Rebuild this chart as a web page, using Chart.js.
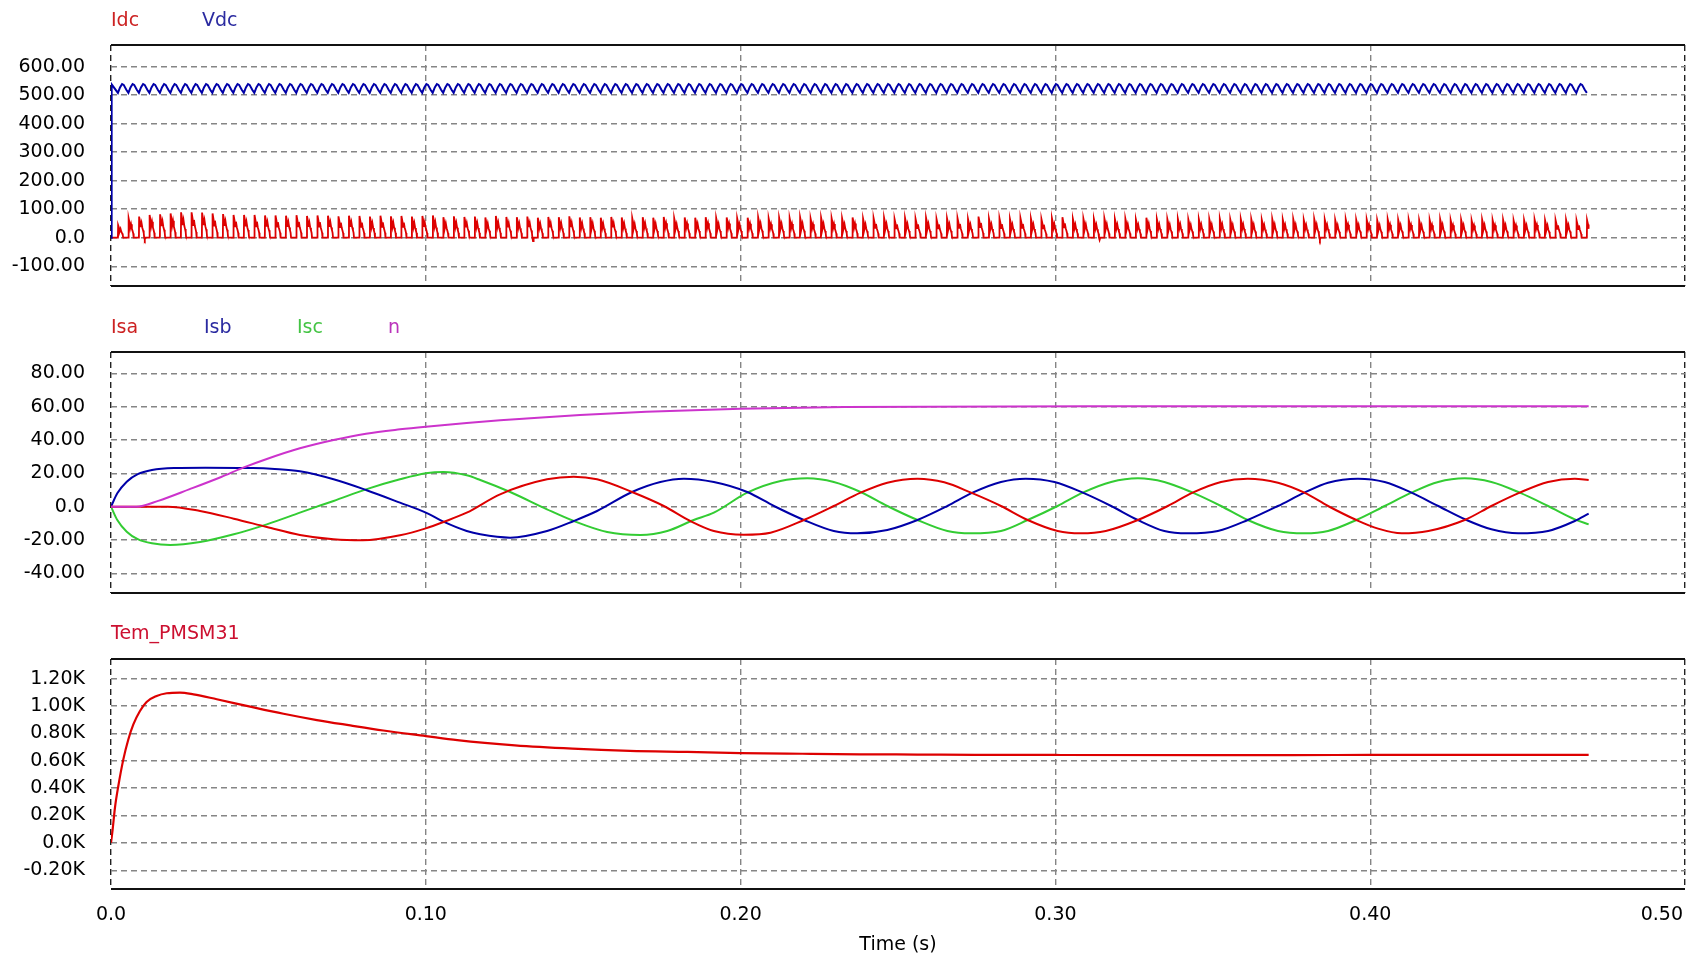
<!DOCTYPE html>
<html>
<head>
<meta charset="utf-8">
<title>PMSM drive simulation</title>
<script src="https://cdn.jsdelivr.net/npm/chart.js@4.4.1/dist/chart.umd.min.js"></script>
<style>
  html, body { margin: 0; padding: 0; background: #fff; width: 1696px; height: 957px; overflow: hidden; }
  canvas { position: absolute; left: 0; top: 0; }
  .lg { position: absolute; font: 19px "DejaVu Sans", sans-serif; line-height: 19px; white-space: nowrap; }
</style>
</head>
<body>
<canvas id="dcPanel" width="1696" height="957"></canvas>
<canvas id="phasePanel" width="1696" height="957"></canvas>
<canvas id="torquePanel" width="1696" height="957"></canvas>

<span class="lg" style="left:111px;top:10px;color:#cc2222">Idc</span>
<span class="lg" style="left:202px;top:10px;color:#2a2aa0">Vdc</span>
<span class="lg" style="left:111px;top:317px;color:#cc2222">Isa</span>
<span class="lg" style="left:204px;top:317px;color:#2a2aa0">Isb</span>
<span class="lg" style="left:297px;top:317px;color:#44c444">Isc</span>
<span class="lg" style="left:388px;top:317px;color:#bb33bb">n</span>
<span class="lg" style="left:111px;top:623px;color:#cc1030">Tem_PMSM31</span>

<script>
// ---- time axis ----
const timeTicks = [0, 0.1, 0.2, 0.3, 0.4, 0.5];
const tEnd = 0.4694;            // end of the simulation run (s)

// ---- DC link: 300 Hz rectifier ripple ----
const ripplePeriod = 0.003333;  // s, one rectifier pulse
const idcStart = 0.0022;        // first charging pulse (s)
// Idc peak of each charging pulse (A)
const idcPeaks = [
  44, 68, 74, 80, 82, 85, 89, 89, 88, 85, 83, 80, 80, 80, 78,
  78, 77, 79, 76, 78, 77, 75, 77, 76, 74, 77, 75, 76, 74, 76,
  78, 72, 75, 73, 74, 71, 76, 73, 72, 74, 70, 73, 72, 75, 71,
  72, 70, 73, 71, 69, 72, 70, 73, 68, 71, 70, 72, 69, 71, 68,
  70, 72, 68, 70, 69, 71, 67, 70, 69, 68, 71, 67, 69, 70, 66,
  69, 67, 70, 66, 68, 69, 66, 74, 67, 68, 66, 69, 67, 65, 68,
  72, 66, 67, 65, 68, 66, 67, 64, 70, 66, 65, 67, 64, 66, 65,
  67, 64, 66, 65, 63, 66, 64, 65, 63, 66, 64, 62, 65, 63, 64,
  62, 65, 63, 64, 62, 63, 65, 62, 63, 61, 64, 62, 63, 61, 62,
  64, 61, 62, 63, 61, 62
];
// pulse outline: [fraction of period, fraction of peak]
const idcPulse = [
  [0, 0], [0.02, 1.0], [0.12, 0.74], [0.17, 0.5], [0.25, 0.7], [0.33, 0.46],
  [0.40, 0.34], [0.46, 0.22], [0.50, 0]
];
// small negative spikes after some pulses: [pulse index, A]
const idcDips = [[2, -6], [39, -12], [93, -8], [114, -7]];
// Vdc start-up and ripple over one pulse: [fraction of period, V]
const vdcStartUp = [[0, 0], [0.0002, 538]];
const vdcRipple = [[0, 508], [0.2, 527], [0.4, 539], [0.55, 536], [0.8, 519]];

// ---- stator currents (A) and speed n: [t (s), value] ----
const isa = [
  [0, 0], [0.018, 0], [0.0283, -2.6], [0.039, -7.2], [0.0495, -12.2], [0.06, -17], [0.0707, -19.6],
  [0.08, -20.2], [0.0918, -17.2], [0.1, -13], [0.1056, -9.2], [0.113, -3.6], [0.1236, 7.4],
  [0.1385, 16.4], [0.147, 18], [0.1544, 16.4], [0.1655, 8.8], [0.1756, 0.4], [0.184, -8.6],
  [0.1915, -14.6], [0.201, -16.8], [0.2095, -15.6], [0.2201, -8], [0.2296, 0.4], [0.2381, 8.4],
  [0.2466, 14.4], [0.2562, 16.8], [0.2647, 14.6], [0.2732, 8.4], [0.2827, 0.4], [0.2912, -8],
  [0.3007, -14.6], [0.3081, -16], [0.316, -14.6], [0.3262, -8], [0.3357, 0.4], [0.3436, 8.4],
  [0.3526, 14.8], [0.3611, 16.8], [0.3707, 14.4], [0.3791, 8.4], [0.3866, 0.4], [0.3956, -8],
  [0.4025, -13.2], [0.41, -16], [0.4185, -14.6], [0.43, -8], [0.4385, 0.4], [0.4475, 8.4],
  [0.4565, 14.8], [0.465, 16.8], [0.4694, 16]
];
const isb = [
  [0, 0], [0.002, 8], [0.005, 15], [0.0085, 19.5], [0.013, 22], [0.02, 23.2], [0.03, 23.4],
  [0.045, 23.2], [0.052, 22.6], [0.06, 21.2], [0.0707, 16.4], [0.081, 10], [0.0918, 2.4],
  [0.1, -3.6], [0.1056, -9], [0.113, -14.6], [0.1173, -16.6], [0.1268, -18.6], [0.1385, -14.6],
  [0.147, -8.6], [0.1544, -2.6], [0.1655, 8.8], [0.1745, 14.8], [0.182, 16.8], [0.1915, 14.8],
  [0.2021, 8.8], [0.2106, 0.4], [0.2201, -8], [0.2296, -14.6], [0.237, -16], [0.2466, -14],
  [0.2562, -8], [0.2657, 0.4], [0.2737, 8.4], [0.2827, 14.8], [0.2906, 16.8], [0.2997, 14.8],
  [0.3087, 8.4], [0.3177, 0.4], [0.3262, -8], [0.3346, -14.6], [0.342, -16], [0.3516, -14.6],
  [0.3611, -8], [0.3707, 0.4], [0.3791, 8.4], [0.3866, 14.4], [0.3961, 16.8], [0.4046, 14.8],
  [0.4131, 8.4], [0.4216, 0.4], [0.4306, -8], [0.4385, -13.6], [0.447, -16], [0.4565, -14.6],
  [0.465, -8.6], [0.4694, -4.2]
];
const isc = [
  [0, 0], [0.002, -8], [0.005, -15], [0.0085, -19.5], [0.013, -22], [0.0188, -23], [0.0283, -21.2],
  [0.039, -16.6], [0.0495, -10.6], [0.06, -3.6], [0.0654, 0], [0.0707, 3.4], [0.081, 10.4],
  [0.0918, 16.4], [0.1, 20], [0.1056, 20.8], [0.113, 18.8], [0.1173, 16], [0.1268, 8.8],
  [0.1385, -1.6], [0.147, -8.6], [0.1576, -15.2], [0.1682, -17], [0.1767, -14.6], [0.1851, -8],
  [0.1915, -3.6], [0.2021, 8.4], [0.2127, 15.4], [0.2212, 17], [0.2296, 14.8], [0.2381, 8.8],
  [0.2466, 0.4], [0.2562, -8], [0.2657, -14.6], [0.2732, -16], [0.2827, -14.6], [0.2912, -8],
  [0.3007, 0.4], [0.3087, 8.4], [0.3177, 14.8], [0.3262, 17], [0.3346, 14.8], [0.3436, 8.4],
  [0.3526, 0.4], [0.3611, -8], [0.3707, -14.6], [0.3791, -16], [0.3866, -14.6], [0.3956, -8],
  [0.4046, 0.4], [0.4131, 8.4], [0.4216, 14.8], [0.43, 17], [0.4385, 14.8], [0.4475, 8.4],
  [0.4565, 0.4], [0.465, -7.6], [0.4694, -10.6]
];
const speedN = [
  [0, 0], [0.008, 0], [0.015, 3.5], [0.025, 10.5], [0.035, 17.8], [0.042, 23.4], [0.0495, 28.6],
  [0.06, 35], [0.0707, 40], [0.081, 43.8], [0.0918, 46.4], [0.1, 48], [0.113, 50.2], [0.1236, 51.8],
  [0.132, 52.9], [0.149, 55], [0.17, 57], [0.2, 58.8], [0.233, 59.8], [0.31, 60.3], [0.4694, 60.3]
];

// ---- electromagnetic torque (N·m): [t (s), value] ----
const torque = [
  [0, 0], [0.0005, 93], [0.0013, 265], [0.0023, 412], [0.0039, 608], [0.0055, 755], [0.0071, 865],
  [0.0092, 963], [0.0113, 1029], [0.0145, 1073], [0.0177, 1093], [0.0219, 1098], [0.0262, 1085],
  [0.0336, 1049], [0.0442, 995], [0.0548, 943], [0.0654, 897], [0.076, 858], [0.0865, 821],
  [0.1, 780], [0.11, 750], [0.1283, 712], [0.1466, 688], [0.1648, 672], [0.1831, 664],
  [0.2, 656], [0.2196, 651], [0.2379, 647], [0.2561, 645], [0.2744, 643], [0.3, 642],
  [0.35, 641], [0.4, 642], [0.4694, 642]
];

// ---- axis ranges and ticks ----
const dcRange = [-169.4, 675.9];
const dcTicks = [-100, 0, 100, 200, 300, 400, 500, 600];
const phaseRange = [-51.8, 92.8];
const phaseTicks = [-40, -20, 0, 20, 40, 60, 80];
const torqueRange = [-337, 1343];
const torqueTicks = [-200, 0, 200, 400, 600, 800, 1000, 1200];

// ---- build line points ----
const pts = arr => arr.map(([x, y]) => ({ x, y }));

function idcPoints() {
  const out = [{ x: 0, y: 0 }];
  const dipAfter = new Map(idcDips);
  idcPeaks.forEach((peak, k) => {
    const t0 = idcStart + k * ripplePeriod;
    for (const [ph, f] of idcPulse) {
      const t = t0 + ph * ripplePeriod;
      if (t <= tEnd) out.push({ x: t, y: f * peak });
    }
    if (dipAfter.has(k)) {
      const t = t0 + 0.56 * ripplePeriod;
      if (t <= tEnd) { out.push({ x: t, y: dipAfter.get(k) }); out.push({ x: t + 0.06 * ripplePeriod, y: 0 }); }
    }
  });
  return out;
}

function vdcPoints() {
  const out = pts(vdcStartUp);
  idcPeaks.forEach((_, k) => {
    const t0 = idcStart + k * ripplePeriod;
    for (const [ph, v] of vdcRipple) {
      const t = t0 + ph * ripplePeriod;
      if (t <= tEnd) out.push({ x: t, y: v });
    }
  });
  return out;
}

// ---- shared look ----
const FONT = '"DejaVu Sans", sans-serif';
Chart.defaults.font.family = FONT;
Chart.defaults.font.size = 19;
Chart.defaults.color = '#000';

const fmtPlain = v => (v === 0 ? '0.0' : v.toFixed(2));
const fmtK = v => (v === 0 ? '0.0K' : (v / 1000).toFixed(2) + 'K');

const framePlugin = {
  id: 'frame',
  beforeDatasetsDraw(chart) {
    const { ctx, chartArea: a } = chart;
    ctx.save();
    ctx.strokeStyle = '#111';
    ctx.lineWidth = 2;
    ctx.beginPath();
    ctx.moveTo(a.left, a.top); ctx.lineTo(a.right, a.top);
    ctx.moveTo(a.left, a.bottom); ctx.lineTo(a.right, a.bottom);
    ctx.stroke();
    ctx.restore();
  }
};

// x tick labels under the bottom panel; the last one is kept inside the frame
const timeLabelPlugin = {
  id: 'timeLabels',
  afterDraw(chart) {
    const s = chart.scales.x;
    const { ctx, chartArea: a } = chart;
    ctx.save();
    ctx.font = '19px ' + FONT;
    ctx.fillStyle = '#000';
    ctx.textBaseline = 'middle';
    s.ticks.forEach((t, i) => {
      const last = i === s.ticks.length - 1;
      ctx.textAlign = last ? 'right' : 'center';
      ctx.fillText(fmtPlain(t.value), last ? a.right - 2 : s.getPixelForValue(t.value), a.bottom + 26);
    });
    ctx.restore();
  }
};

function xScale(withTitle) {
  return {
    type: 'linear', min: 0, max: 0.5,
    afterBuildTicks: s => { s.ticks = timeTicks.map(value => ({ value })); },
    ticks: { display: false },
    grid: {
      drawTicks: false, lineWidth: 1.4,
      color: c => (c.tick && (c.tick.value === 0 || c.tick.value === 0.5) ? '#222' : '#858585')
    },
    border: { display: false, dash: [6, 4] },
    title: withTitle
      ? { display: true, text: 'Time (s)', color: '#000', font: { size: 19, family: FONT }, padding: { top: 0, bottom: 1 } }
      : { display: false },
    afterFit: s => { s.height = withTitle ? 68 : 0; s.paddingLeft = 0; s.paddingRight = 0; }
  };
}

function yScale(range, ticks, fmt) {
  return {
    type: 'linear', min: range[0], max: range[1],
    afterBuildTicks: s => { s.ticks = ticks.map(value => ({ value })); },
    ticks: { padding: 26, color: '#000', font: { size: 19, family: FONT }, callback: v => fmt(v) },
    grid: { drawTicks: false, lineWidth: 1.4, color: '#858585' },
    border: { display: false, dash: [6, 4] },
    afterFit: s => { s.width = 111; s.paddingTop = 0; s.paddingBottom = 0; }
  };
}

function line(data, color, width, smooth) {
  return {
    data, borderColor: color, borderWidth: width, pointRadius: 0,
    fill: false, tension: 0,
    cubicInterpolationMode: smooth ? 'monotone' : 'default'
  };
}

function panel(id, datasets, yRange, yTicks, fmt, top, bottom, bottomPanel) {
  return new Chart(document.getElementById(id), {
    type: 'line',
    data: { datasets },
    options: {
      responsive: false, animation: false, events: [], parsing: false,
      layout: { padding: { left: 0, right: 11, top, bottom } },
      plugins: { legend: { display: false }, tooltip: { enabled: false } },
      scales: { x: xScale(bottomPanel), y: yScale(yRange, yTicks, fmt) }
    },
    plugins: bottomPanel ? [framePlugin, timeLabelPlugin] : [framePlugin]
  });
}

panel('dcPanel', [
  line(vdcPoints(), '#0000a8', 2, false),
  line(idcPoints(), '#dd0000', 1.8, false)
], dcRange, dcTicks, fmtPlain, 45, 957 - 286, false);

panel('phasePanel', [
  line(pts(speedN), '#cc33cc', 2, true),
  line(pts(isa), '#dd0000', 2, true),
  line(pts(isb), '#0000a8', 2, true),
  line(pts(isc), '#33cc33', 2, true)
], phaseRange, phaseTicks, fmtPlain, 352, 957 - 593, false);

panel('torquePanel', [
  line(pts(torque), '#dd0000', 2.2, true)
], torqueRange, torqueTicks, fmtK, 659, 0, true);
</script>
</body>
</html>
